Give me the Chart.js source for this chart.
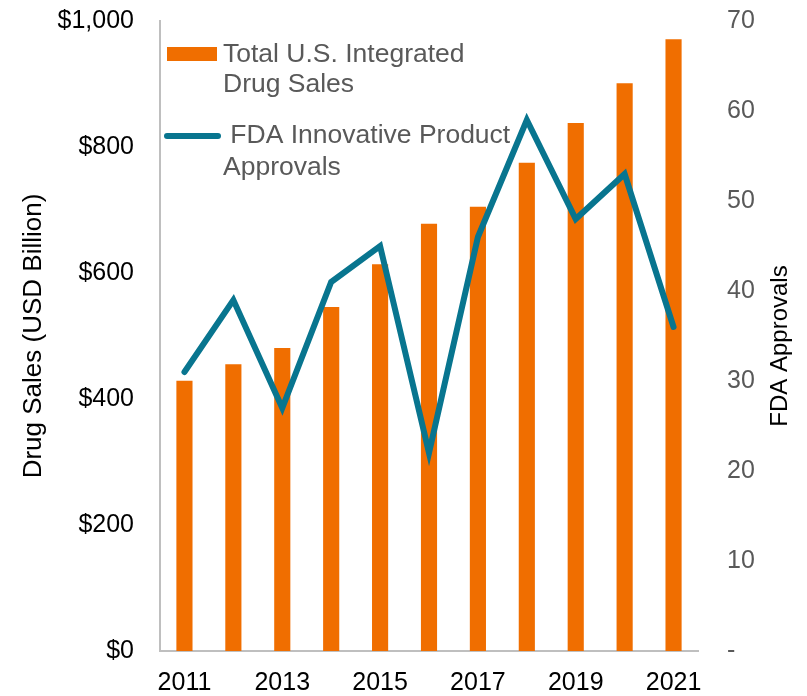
<!DOCTYPE html>
<html><head><meta charset="utf-8">
<script src="https://cdn.jsdelivr.net/npm/chart.js@4.4.1/dist/chart.umd.min.js"></script>
<style>html,body{margin:0;padding:0;background:#fff}#wrap{width:807px;height:696px}</style>
</head><body><div id="wrap"><canvas id="c" width="807" height="696"></canvas></div>
<script>
const years = ['2011','2012','2013','2014','2015','2016','2017','2018','2019','2020','2021'];
const drugSales = [429, 455, 481, 546, 614, 678, 705, 775, 838, 901, 971];
const fdaApprovals = [31, 39, 27, 41, 45, 22, 46, 59, 48, 53, 36];
const salesTickValues = [0, 200, 400, 600, 800, 1000];
const approvalTickValues = [0, 10, 20, 30, 40, 50, 60, 70];
const salesLegendLines = ['Total U.S. Integrated', 'Drug Sales'];
const approvalsLegendLines = [' FDA Innovative Product', 'Approvals'];
const leftTitle = 'Drug Sales (USD Billion)';
const rightTitle = 'FDA Approvals';

const FONT = '"Liberation Sans", Arial, sans-serif';
const ORANGE = '#F06E00';
const TEAL = '#08758F';

const legendPlugin = {
  id: 'customLegend',
  beforeDatasetsDraw(chart) {
    const ctx = chart.ctx;
    ctx.save();
    ctx.font = '26.5px ' + FONT;
    ctx.textBaseline = 'alphabetic';
    ctx.textAlign = 'left';
    const ds = chart.data.datasets;
    ctx.fillStyle = ds[0].backgroundColor;
    ctx.fillRect(167, 47, 50, 14);
    ctx.fillStyle = '#595959';
    ds[0].legendLines.forEach((t, i) => ctx.fillText(t, 223, 62 + i * 30));
    ctx.strokeStyle = ds[1].borderColor;
    ctx.lineWidth = 6;
    ctx.lineCap = 'round';
    ctx.beginPath(); ctx.moveTo(167, 136); ctx.lineTo(218, 136); ctx.stroke();
    ds[1].legendLines.forEach((t, i) => ctx.fillText(t, 223, 143 + i * 32));
    ctx.restore();
  }
};

const rightTitlePlugin = {
  id: 'rightTitle',
  afterDraw(chart) {
    const ctx = chart.ctx;
    ctx.save();
    ctx.translate(780, 346);
    ctx.rotate(-Math.PI / 2);
    ctx.font = '24px ' + FONT;
    ctx.fillStyle = '#000';
    ctx.textAlign = 'center';
    ctx.textBaseline = 'middle';
    ctx.fillText(rightTitle, 0, 0);
    ctx.restore();
  }
};

new Chart(document.getElementById('c'), {
  type: 'bar',
  data: {
    labels: years,
    datasets: [
      {
        type: 'bar',
        label: salesLegendLines.join(' '),
        legendLines: salesLegendLines,
        data: drugSales,
        backgroundColor: ORANGE,
        borderWidth: 0,
        yAxisID: 'y',
        barPercentage: 0.33,
        categoryPercentage: 1,
        order: 2
      },
      {
        type: 'line',
        label: approvalsLegendLines.join(' ').trim(),
        legendLines: approvalsLegendLines,
        data: fdaApprovals,
        borderColor: TEAL,
        backgroundColor: TEAL,
        borderWidth: 6,
        pointRadius: 0,
        tension: 0,
        borderCapStyle: 'round',
        borderJoinStyle: 'miter',
        yAxisID: 'y1',
        order: 1
      }
    ]
  },
  options: {
    responsive: false,
    animation: false,
    devicePixelRatio: 1,
    layout: { padding: { left: 0, right: 0, top: 21, bottom: 0 } },
    plugins: { legend: { display: false }, tooltip: { enabled: false } },
    scales: {
      x: {
        offset: true,
        grid: { display: false, drawTicks: false },
        border: { display: true, color: '#BFBFBF', width: 2 },
        ticks: {
          autoSkip: false, maxRotation: 0, padding: 17, color: '#000',
          font: { family: FONT, size: 25 },
          callback: (v, i) => (i % 2 === 0 ? years[i] : '')
        },
        afterFit: s => { s.height = 45; s.paddingLeft = 0; s.paddingRight = 0; }
      },
      y: {
        position: 'left',
        min: 0, max: 1000,
        afterBuildTicks: s => { s.ticks = salesTickValues.map(v => ({ value: v })); },
        grid: { display: false, drawTicks: false },
        border: { display: true, color: '#BFBFBF', width: 2 },
        ticks: {
          padding: 26, color: '#000',
          font: { family: FONT, size: 25 },
          callback: v => '$' + v.toLocaleString('en-US')
        },
        title: {
          display: true, text: leftTitle, color: '#000',
          font: { family: FONT, size: 26 },
          padding: { top: 18, bottom: 0 }
        },
        afterFit: s => { s.width = 160; s.paddingTop = 0; s.paddingBottom = 0; }
      },
      y1: {
        position: 'right',
        min: 0, max: 70,
        afterBuildTicks: s => { s.ticks = approvalTickValues.map(v => ({ value: v })); },
        grid: { display: false, drawTicks: false },
        border: { display: false },
        ticks: {
          padding: 29, color: '#595959',
          font: { family: FONT, size: 25 },
          callback: v => (v === 0 ? '-' : String(v))
        },
        afterFit: s => { s.width = 109; s.paddingTop = 0; s.paddingBottom = 0; }
      }
    }
  },
  plugins: [legendPlugin, rightTitlePlugin]
});
</script>
</body></html>
